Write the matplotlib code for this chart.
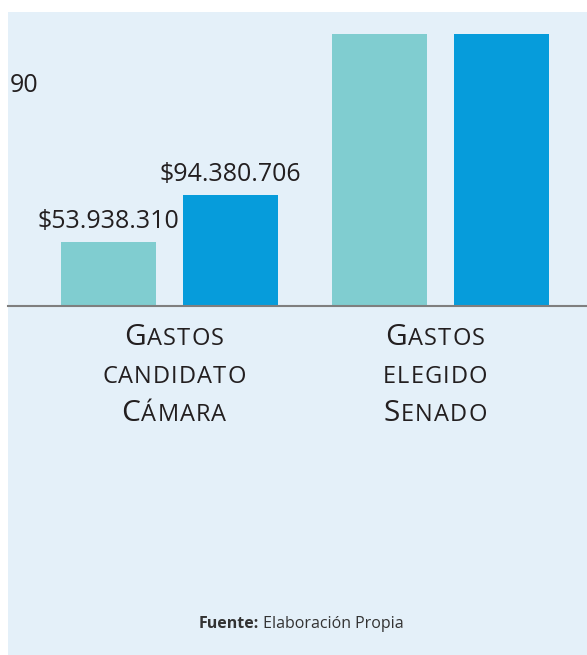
import matplotlib.pyplot as plt
from matplotlib.patches import Rectangle
from matplotlib.transforms import IdentityTransform

# datos
categorias = ['Gastos\ncandidato\nCámara', 'Gastos\nelegido\nSenado']
serie_a = [53938310, 260000000]   # barras del Senado se salen del recuadro
serie_b = [94380706, 260000000]
etiquetas = ['$53.938.310', '$94.380.706']

W, H = 587, 655
FONT = 'Open Sans'
TXT = '#231f20'
PESO = 500

fig = plt.figure(figsize=(W / 100, H / 100), dpi=100)
fig.patch.set_facecolor('white')
# fondo celeste del recuadro
fig.patches.append(Rectangle((8 / W, 0), 1 - 8 / W, 1 - 12 / H, transform=fig.transFigure,
                             facecolor='#e4f0f9', edgecolor='none', zorder=-5))

ax = fig.add_axes([8 / W, 1 - 306 / H, 579 / W, 272 / H])
ax.patch.set_visible(False)

x = range(len(categorias))
off, ancho = 0.225, 0.3506
ba = ax.bar([i - off for i in x], serie_a, ancho, color='#80cdd0', zorder=2)
bb = ax.bar([i + off for i in x], serie_b, ancho, color='#069cdb', zorder=2)

ax.set_xlim(-0.596, 1.5406)
ax.set_ylim(0, 231e6)
for s in ['top', 'left', 'right']:
    ax.spines[s].set_visible(False)
ax.spines['bottom'].set_color('#7f7f7f')
ax.spines['bottom'].set_linewidth(1.5)
ax.spines['bottom'].set_zorder(3)
ax.set_xticks([])
ax.set_yticks([])

# etiquetas de valor (solo las visibles)
for rect, lab in zip([ba[0], bb[0]], etiquetas):
    ax.annotate(lab, (rect.get_x() + rect.get_width() / 2, rect.get_height()),
                xytext=(0, 14), textcoords='offset pixels', ha='center', va='baseline',
                fontsize=18, family=FONT, weight=PESO, color=TXT)

# resto de una etiqueta cortada a la izquierda
fig.text(38 / W, 1 - 92 / H, '90', ha='right', va='baseline', fontsize=18, family=FONT,
         weight=PESO, color=TXT)

renderer = fig.canvas.get_renderer()


def texto_versalitas(cx, y_base, linea, grande=21.5, chica=17, track=1.1):
    # versalitas: inicial en mayuscula grande, el resto en mayuscula chica,
    # letra por letra para poder abrir el espaciado
    letras = []
    for k, palabra in enumerate(linea.split(' ')):
        if k > 0:
            letras.append((' ', chica))
        for j, c in enumerate(palabra):
            size = grande if (j == 0 and c.isupper()) else chica
            letras.append((c.upper(), size))
    objs, anchos = [], []
    for c, size in letras:
        t = fig.text(0, y_base, c, fontsize=size, family=FONT, weight=PESO, color=TXT,
                     ha='left', va='baseline', transform=IdentityTransform())
        objs.append(t)
        anchos.append(t.get_window_extent(renderer).width if c != ' ' else 6)
    total = sum(anchos) + track * (len(anchos) - 1)
    xx = cx - total / 2
    for t, w in zip(objs, anchos):
        t.set_x(xx)
        xx += w + track


centros = [174, 435]
bases = [345, 383, 421]
for cx, cat in zip(centros, categorias):
    for linea, yb in zip(cat.split('\n'), bases):
        texto_versalitas(cx, H - yb, linea)

# fuente
t1 = fig.text(0, H - 628, 'Fuente:', fontsize=11.5, family=FONT, weight='bold', color='#333333',
              ha='left', va='baseline', transform=IdentityTransform())
t2 = fig.text(0, H - 628, ' Elaboración Propia', fontsize=11.5, family=FONT, color='#333333',
              ha='left', va='baseline', transform=IdentityTransform())
w1 = t1.get_window_extent(renderer).width
w2 = t2.get_window_extent(renderer).width
x0 = 301 - (w1 + w2) / 2
t1.set_x(x0)
t2.set_x(x0 + w1)

fig.savefig('out.png', dpi=100)
